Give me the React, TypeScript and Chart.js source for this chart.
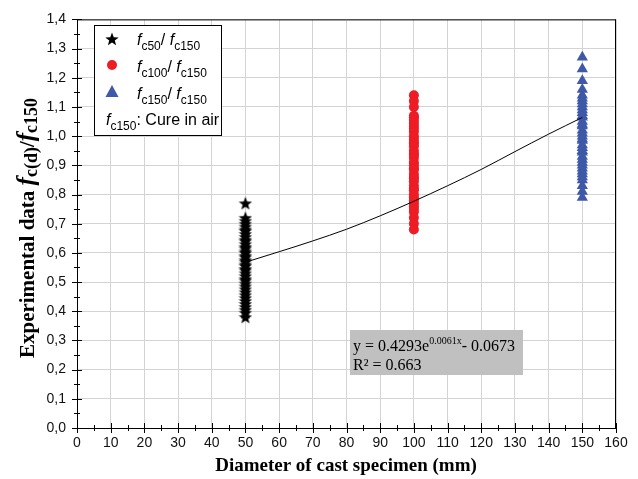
import React, { useEffect, useRef } from "react";
import { Chart, registerables } from "chart.js";

Chart.register(...registerables);

// ---- data ----
const diameters = [50, 100, 150];
const ratio50 = [0.77, 0.72, 0.71, 0.7, 0.69, 0.68, 0.675, 0.665, 0.655, 0.645, 0.64, 0.63, 0.62, 0.615, 0.605, 0.6, 0.59, 0.585, 0.575, 0.57, 0.56, 0.555, 0.545, 0.54, 0.53, 0.52, 0.51, 0.505, 0.495, 0.485, 0.475, 0.465, 0.455, 0.445, 0.435, 0.425, 0.415, 0.405, 0.395, 0.38];
const ratio100 = [1.14, 1.12, 1.1, 1.07, 1.065, 1.055, 1.045, 1.035, 1.025, 1.015, 1.0, 0.99, 0.98, 0.975, 0.965, 0.95, 0.94, 0.935, 0.925, 0.91, 0.9, 0.89, 0.885, 0.87, 0.86, 0.855, 0.845, 0.83, 0.82, 0.815, 0.8, 0.79, 0.78, 0.77, 0.76, 0.75, 0.74, 0.72, 0.7, 0.68];
const ratio150 = [1.27, 1.23, 1.19, 1.16, 1.14, 1.13, 1.12, 1.11, 1.1, 1.09, 1.08, 1.07, 1.065, 1.05, 1.04, 1.035, 1.02, 1.01, 1.0, 0.99, 0.985, 0.97, 0.96, 0.95, 0.945, 0.93, 0.92, 0.91, 0.9, 0.89, 0.88, 0.87, 0.86, 0.85, 0.83, 0.81, 0.79];
const fitX = [50, 60, 70, 80, 90, 100, 110, 120, 130, 140, 150];
const fitY = [0.568, 0.604, 0.641, 0.681, 0.727, 0.777, 0.83, 0.886, 0.947, 1.007, 1.064];
const xMin = 0, xMax = 160, xStep = 10;
const yMin = 0, yMax = 1.4, yStep = 0.1;
const xTitle = "Diameter of cast specimen (mm)";
const eqLine1 = ["y = 0.4293e", "0.0061x", "- 0.0673"];
const eqLine2 = "R² = 0.663";
const legendSubs = [["c50", "c150"], ["c100", "c150"], ["c150", "c150"]];

const SANS = '"Liberation Sans", Arial, sans-serif';
const SERIF = '"Liberation Serif", "Times New Roman", serif';

function makeStar(size: number) {
  const c = document.createElement("canvas");
  c.width = size;
  c.height = size;
  const ctx = c.getContext("2d")!;
  const cx = size / 2, cy = size / 2 + 0.6, R = size / 2, r = R * 0.42;
  ctx.beginPath();
  for (let i = 0; i < 10; i++) {
    const a = -Math.PI / 2 + (i * Math.PI) / 5;
    const rad = i % 2 ? r : R;
    ctx.lineTo(cx + rad * Math.cos(a), cy + rad * Math.sin(a));
  }
  ctx.closePath();
  ctx.fillStyle = "#000";
  ctx.fill();
  return c;
}

type Seg = { t: string; f: string; dy?: number };
function drawRich(ctx: CanvasRenderingContext2D, x: number, y: number, segs: Seg[]) {
  let cx = x;
  for (const s of segs) {
    ctx.font = s.f;
    ctx.fillText(s.t, cx, y + (s.dy || 0));
    cx += ctx.measureText(s.t).width;
  }
  return cx - x;
}
function richWidth(ctx: CanvasRenderingContext2D, segs: Seg[]) {
  let w = 0;
  for (const s of segs) {
    ctx.font = s.f;
    w += ctx.measureText(s.t).width;
  }
  return w;
}

const decorPlugin = {
  id: "decor",
  afterDatasetsDraw(chart: any) {
    const ctx: CanvasRenderingContext2D = chart.ctx;
    ctx.save();
    // legend box
    const lx = 94, ly = 25, lw = 127, lh = 110;
    ctx.fillStyle = "#fff";
    ctx.fillRect(lx, ly, lw, lh);
    ctx.strokeStyle = "#000";
    ctx.lineWidth = 1;
    ctx.strokeRect(lx + 0.5, ly + 0.5, lw, lh);
    const star = makeStar(14);
    ctx.drawImage(star, 112 - 7, 39 - 7);
    ctx.fillStyle = "#ee1c25";
    ctx.beginPath();
    ctx.arc(112, 65, 5, 0, Math.PI * 2);
    ctx.fill();
    ctx.fillStyle = "#3f59a8";
    ctx.beginPath();
    ctx.moveTo(112, 85);
    ctx.lineTo(118.5, 97);
    ctx.lineTo(105.5, 97);
    ctx.closePath();
    ctx.fill();
    ctx.fillStyle = "#000";
    ctx.textBaseline = "alphabetic";
    ctx.textAlign = "left";
    const fI = `italic 16px ${SANS}`;
    const fS = `12px ${SANS}`;
    const fN = `16px ${SANS}`;
    const rowsY = [45, 72, 99];
    legendSubs.forEach((s, i) => {
      drawRich(ctx, 137, rowsY[i], [
        { t: "f", f: fI },
        { t: s[0], f: fS, dy: 5 },
        { t: "/ ", f: fN },
        { t: "f", f: fI },
        { t: s[1], f: fS, dy: 5 },
      ]);
    });
    drawRich(ctx, 106, 125, [
      { t: "f", f: fI },
      { t: "c150", f: fS, dy: 5 },
      { t: ": Cure in air", f: fN },
    ]);

    // equation box
    ctx.fillStyle = "#c0c0c0";
    ctx.fillRect(350, 330, 173, 45);
    ctx.fillStyle = "#000";
    drawRich(ctx, 353, 351, [
      { t: eqLine1[0], f: `16px ${SERIF}` },
      { t: eqLine1[1], f: `10px ${SERIF}`, dy: -7 },
      { t: eqLine1[2], f: `16px ${SERIF}` },
    ]);
    ctx.font = `16px ${SERIF}`;
    ctx.fillText(eqLine2, 353, 370);
    ctx.restore();
  },
  afterDraw(chart: any) {
    const ctx: CanvasRenderingContext2D = chart.ctx;
    const xs = chart.scales.x, ys = chart.scales.y;
    const a = chart.chartArea;
    ctx.save();
    ctx.strokeStyle = "#000";
    ctx.lineWidth = 1;
    // frame
    ctx.beginPath();
    ctx.moveTo(a.left, a.top + 0.5);
    ctx.lineTo(a.right, a.top + 0.5);
    ctx.moveTo(a.right - 0.5, a.top);
    ctx.lineTo(a.right - 0.5, a.bottom);
    ctx.moveTo(a.left + 0.5, a.top);
    ctx.lineTo(a.left + 0.5, a.bottom + 0.5);
    ctx.lineTo(a.right, a.bottom + 0.5);
    ctx.stroke();
    // ticks
    ctx.beginPath();
    for (let v = xMin; v <= xMax + 1e-9; v += xStep / 2) {
      const px = Math.round(xs.getPixelForValue(v)) + 0.5;
      const major = Math.abs(v / xStep - Math.round(v / xStep)) < 1e-6;
      const len = major ? 5 : 3;
      ctx.moveTo(px, a.bottom - len);
      ctx.lineTo(px, a.bottom + len);
    }
    for (let v = yMin; v <= yMax + 1e-9; v += yStep / 2) {
      const py = Math.round(ys.getPixelForValue(v)) + 0.5;
      const major = Math.abs(v / yStep - Math.round(v / yStep)) < 1e-6;
      const len = major ? 5 : 3;
      ctx.moveTo(a.left - len, py);
      ctx.lineTo(a.left + len, py);
    }
    ctx.stroke();

    // axis titles
    ctx.fillStyle = "#000";
    ctx.textBaseline = "alphabetic";
    ctx.textAlign = "center";
    ctx.font = `bold 19px ${SERIF}`;
    ctx.fillText(xTitle, 346, 471);

    const ySegs: Seg[] = [
      { t: "Experimental data ", f: `bold 21px ${SERIF}` },
      { t: "f", f: `bold italic 25px ${SERIF}` },
      { t: "c(d)", f: `bold 18px ${SERIF}`, dy: 3 },
      { t: "/", f: `bold 21px ${SERIF}` },
      { t: "f", f: `bold italic 25px ${SERIF}` },
      { t: "c150", f: `bold 18px ${SERIF}`, dy: 3 },
    ];
    ctx.translate(34, 228);
    ctx.rotate(-Math.PI / 2);
    ctx.textAlign = "left";
    const w = richWidth(ctx, ySegs);
    drawRich(ctx, -w / 2, 0, ySegs);
    ctx.restore();
  },
};

export default function App() {
  const ref = useRef<HTMLCanvasElement>(null);
  useEffect(() => {
    if (!ref.current) return;
    const starImg = makeStar(14);
    const chart = new Chart(ref.current, {
      type: "scatter",
      data: {
        datasets: [
          {
            label: "fit",
            data: fitX.map((x, i) => ({ x, y: fitY[i] })),
            showLine: true,
            borderColor: "#000",
            borderWidth: 1,
            pointRadius: 0,
            cubicInterpolationMode: "monotone",
            order: 0,
          } as any,
          {
            label: "fc50/fc150",
            data: ratio50.map((y) => ({ x: diameters[0], y })),
            pointStyle: starImg as any,
            pointRadius: 7,
            order: 1,
          },
          {
            label: "fc100/fc150",
            data: ratio100.map((y) => ({ x: diameters[1], y })),
            pointStyle: "circle",
            pointRadius: 5,
            backgroundColor: "#ee1c25",
            borderColor: "#ee1c25",
            borderWidth: 0,
            order: 2,
          },
          {
            label: "fc150/fc150",
            data: ratio150.map((y) => ({ x: diameters[2], y })),
            pointStyle: "triangle",
            pointRadius: 6.5,
            backgroundColor: "#3f59a8",
            borderColor: "#3f59a8",
            borderWidth: 0,
            order: 3,
          },
        ],
      },
      options: {
        responsive: false,
        animation: false,
        layout: { padding: { top: 19, right: 22, left: 0, bottom: 0 } },
        plugins: { legend: { display: false }, tooltip: { enabled: false } },
        scales: {
          x: {
            type: "linear",
            min: xMin,
            max: xMax,
            afterFit: (s: any) => {
              s.height = 51;
            },
            ticks: {
              stepSize: xStep,
              padding: 7,
              color: "#111",
              font: { family: SANS, size: 14 },
              maxRotation: 0,
            },
            grid: { color: "#d4d4d4", drawTicks: false, lineWidth: 1 },
            border: { display: false },
          },
          y: {
            type: "linear",
            min: yMin,
            max: yMax,
            afterFit: (s: any) => {
              s.width = 77;
            },
            ticks: {
              stepSize: yStep,
              padding: 11,
              color: "#111",
              font: { family: SANS, size: 14 },
              callback: (v: any) => Number(v).toFixed(1).replace(".", ","),
            },
            grid: { color: "#d4d4d4", drawTicks: false, lineWidth: 1 },
            border: { display: false },
          },
        },
      },
      plugins: [decorPlugin],
    });
    return () => chart.destroy();
  }, []);
  return (
    <div style={{ position: "fixed", left: 0, top: 0, width: 638, height: 479, background: "#fff" }}>
      <canvas ref={ref} width={638} height={479} style={{ display: "block" }} />
    </div>
  );
}
